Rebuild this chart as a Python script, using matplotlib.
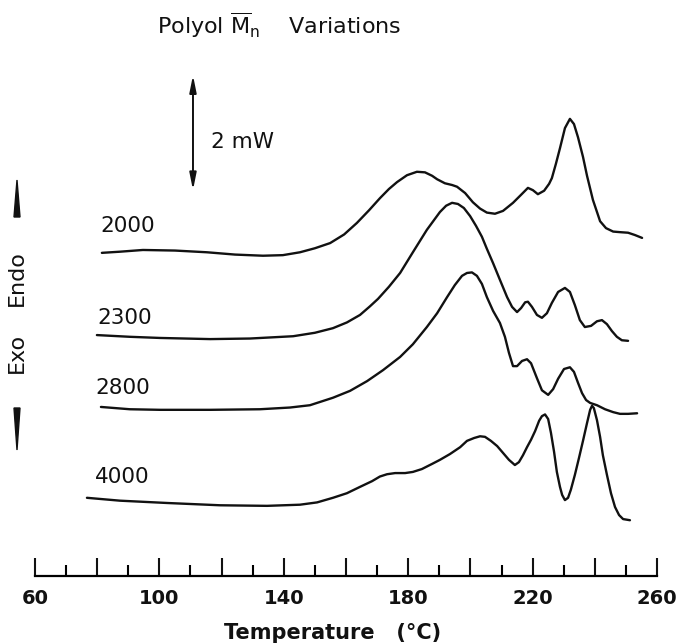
import matplotlib
matplotlib.use("Agg")
import matplotlib.pyplot as plt
from matplotlib.patches import Polygon
from matplotlib.ticker import FixedLocator, FuncFormatter

plt.rcParams['font.family'] = ['DejaVu Sans']
plt.rcParams['mathtext.fontset'] = 'dejavusans'

# DSC traces: temperature (deg C) and heat flow (mW, each trace offset as drawn)
t_2000 = [81.5, 87.3, 94.7, 105.0, 115.3, 124.3, 133.3, 139.7, 145.2, 150.0, 154.9, 159.4,
          163.5, 167.4, 170.9, 173.8, 176.4, 179.6, 182.8, 185.4, 187.7, 189.3, 191.8, 194.1,
          195.7, 198.3, 200.8, 203.1, 205.3, 207.9, 210.5, 213.7, 216.3, 218.5, 220.1, 221.7,
          223.7, 225.3, 226.2, 227.5, 228.8, 230.4, 232.0, 233.3, 234.6, 236.2, 237.5, 239.4,
          241.7, 243.6, 245.9, 248.1, 250.7, 252.9, 255.2]
q_2000 = [5.62, 5.64, 5.67, 5.66, 5.63, 5.59, 5.57, 5.58, 5.63, 5.70, 5.79, 5.94,
          6.14, 6.36, 6.57, 6.73, 6.85, 6.97, 7.03, 7.02, 6.96, 6.90, 6.83, 6.80,
          6.77, 6.66, 6.50, 6.39, 6.32, 6.30, 6.35, 6.49, 6.63, 6.75, 6.71, 6.64,
          6.70, 6.82, 6.92, 7.17, 7.44, 7.79, 7.95, 7.86, 7.63, 7.29, 6.96, 6.54,
          6.17, 6.05, 5.99, 5.98, 5.97, 5.93, 5.88]

t_2300 = [79.9, 90.5, 100.2, 116.3, 129.1, 143.0, 150.0, 155.8, 160.3, 164.5, 167.7, 170.3,
          173.8, 177.4, 181.5, 186.0, 190.2, 192.2, 194.1, 196.0, 197.9, 199.9, 201.8, 203.7,
          205.3, 207.3, 209.5, 211.8, 213.4, 215.0, 216.3, 217.6, 218.5, 219.8, 221.4, 223.0,
          224.6, 226.2, 228.2, 230.4, 232.0, 233.6, 235.2, 236.8, 238.8, 240.7, 242.3, 243.9,
          245.5, 247.1, 248.7, 250.7]
q_2300 = [4.19, 4.16, 4.14, 4.12, 4.13, 4.17, 4.23, 4.31, 4.41, 4.54, 4.69, 4.82,
          5.03, 5.27, 5.63, 6.02, 6.33, 6.44, 6.49, 6.47, 6.40, 6.26, 6.09, 5.90,
          5.69, 5.44, 5.15, 4.85, 4.68, 4.59, 4.66, 4.76, 4.77, 4.68, 4.54, 4.49,
          4.57, 4.75, 4.94, 5.01, 4.94, 4.71, 4.45, 4.33, 4.35, 4.43, 4.45, 4.38,
          4.26, 4.16, 4.10, 4.09]

t_2800 = [81.2, 90.5, 100.2, 116.3, 132.3, 142.0, 148.4, 155.8, 161.3, 166.8, 171.9, 177.4,
          181.5, 186.0, 189.3, 192.5, 195.0, 197.3, 198.9, 200.5, 202.1, 203.7, 205.3, 207.3,
          209.5, 211.1, 212.4, 213.7, 215.0, 216.6, 218.2, 219.5, 221.4, 223.0, 225.0, 226.6,
          228.2, 230.1, 232.0, 233.3, 234.6, 235.9, 237.2, 238.5, 240.7, 243.3, 245.9, 248.1,
          250.7, 253.6]
q_2800 = [2.94, 2.90, 2.89, 2.89, 2.90, 2.93, 2.97, 3.10, 3.22, 3.39, 3.58, 3.81,
          4.03, 4.33, 4.57, 4.85, 5.06, 5.22, 5.27, 5.28, 5.22, 5.08, 4.85, 4.61,
          4.40, 4.16, 3.88, 3.65, 3.65, 3.74, 3.77, 3.70, 3.44, 3.23, 3.15, 3.25,
          3.43, 3.60, 3.63, 3.55, 3.36, 3.18, 3.06, 3.01, 2.97, 2.90, 2.85, 2.82,
          2.82, 2.83]

t_4000 = [76.7, 87.3, 102.4, 119.5, 134.6, 145.2, 150.7, 155.8, 160.3, 164.5, 168.4, 170.9,
          173.2, 175.8, 179.0, 181.5, 184.4, 187.7, 190.2, 193.4, 196.7, 198.9, 201.2, 203.1,
          204.7, 206.6, 208.6, 210.5, 212.4, 214.3, 215.6, 216.9, 218.2, 219.5, 220.8, 222.1,
          223.0, 224.0, 225.0, 225.9, 226.9, 227.8, 228.8, 229.5, 230.4, 231.4, 232.3, 233.6,
          234.9, 236.2, 237.5, 238.5, 239.1, 239.7, 240.7, 241.7, 242.6, 243.9, 245.2, 246.5,
          247.8, 249.1, 251.3]
q_4000 = [1.36, 1.31, 1.27, 1.23, 1.22, 1.24, 1.28, 1.36, 1.44, 1.55, 1.65, 1.73,
          1.77, 1.79, 1.79, 1.81, 1.86, 1.95, 2.02, 2.12, 2.24, 2.35, 2.40, 2.43,
          2.42, 2.35, 2.26, 2.14, 2.02, 1.93, 1.98, 2.10, 2.24, 2.37, 2.52, 2.70,
          2.78, 2.81, 2.73, 2.49, 2.16, 1.81, 1.55, 1.41, 1.32, 1.36, 1.50, 1.76,
          2.05, 2.35, 2.66, 2.89, 2.96, 2.92, 2.71, 2.42, 2.10, 1.76, 1.44, 1.20,
          1.06, 0.99, 0.97]

curves = [("2000", t_2000, q_2000, 80.9, 6.09),
          ("2300", t_2300, q_2300, 79.9, 4.49),
          ("2800", t_2800, q_2800, 79.3, 3.27),
          ("4000", t_4000, q_4000, 79.3, 1.72)]

fig = plt.figure(figsize=(6.78, 6.43), dpi=100)
ax = fig.add_axes([35 / 678, 67 / 643, 622 / 678, 576 / 643])
ax.set_xlim(60, 260)
ax.set_ylim(0, 576 / 57.5)

for name, t, q, lx, ly in curves:
    ax.plot(t, q, color='#111111', lw=1.7, solid_capstyle='round', solid_joinstyle='round')
    ax.text(lx, ly, name, fontsize=15.5, ha='left', va='center', color='#111111')

# 2 mW scale bar
ax.annotate('', xy=(110.8, 8.71), xytext=(110.8, 6.71),
            arrowprops=dict(arrowstyle='<|-|>,head_length=0.5,head_width=0.1',
                            color='#111111', lw=1.4, shrinkA=0, shrinkB=0, mutation_scale=20))
ax.text(116.5, 7.55, '2 mW', fontsize=15.5, ha='left', va='center', color='#111111')

for s in ['left', 'right', 'top']:
    ax.spines[s].set_visible(False)
ax.spines['bottom'].set_linewidth(1.6)
ax.set_yticks([])
ax.xaxis.set_major_locator(FixedLocator(list(range(60, 261, 20))))
ax.xaxis.set_minor_locator(FixedLocator(list(range(70, 260, 20))))
ax.xaxis.set_major_formatter(FuncFormatter(lambda v, p: f"{int(v)}" if (int(v) - 60) % 40 == 0 else ""))
ax.tick_params(axis='x', which='major', direction='in', length=13, width=1.5, pad=9,
               labelsize=14, colors='#111111')
ax.tick_params(axis='x', which='minor', direction='in', length=8, width=1.5)
for lab in ax.get_xticklabels():
    lab.set_fontweight('bold')

fig.text(333 / 678, 1 - 633 / 643, 'Temperature   (°C)', fontsize=15, fontweight='bold',
         ha='center', va='center', color='#111111')
fig.text(157 / 678, 1 - 25 / 643, r'Polyol $\overline{\mathrm{M}}_{\mathrm{n}}$    Variations',
         fontsize=16, ha='left', va='center', color='#111111')

# Exo / Endo direction labels and wedges
fig.text(17 / 678, 1 - 278 / 643, 'Endo', fontsize=16, rotation=90, ha='center', va='center', color='#111111')
fig.text(17 / 678, 1 - 353 / 643, 'Exo', fontsize=16, rotation=90, ha='center', va='center', color='#111111')
W, H = 678, 643
up = Polygon([(17 / W, 1 - 180 / H), (14 / W, 1 - 217 / H), (20 / W, 1 - 217 / H)],
             closed=True, transform=fig.transFigure, color='#111111')
down = Polygon([(14 / W, 1 - 408 / H), (20 / W, 1 - 408 / H), (17 / W, 1 - 450 / H)],
               closed=True, transform=fig.transFigure, color='#111111')
fig.patches.extend([up, down])

fig.savefig('out.png', dpi=100)
